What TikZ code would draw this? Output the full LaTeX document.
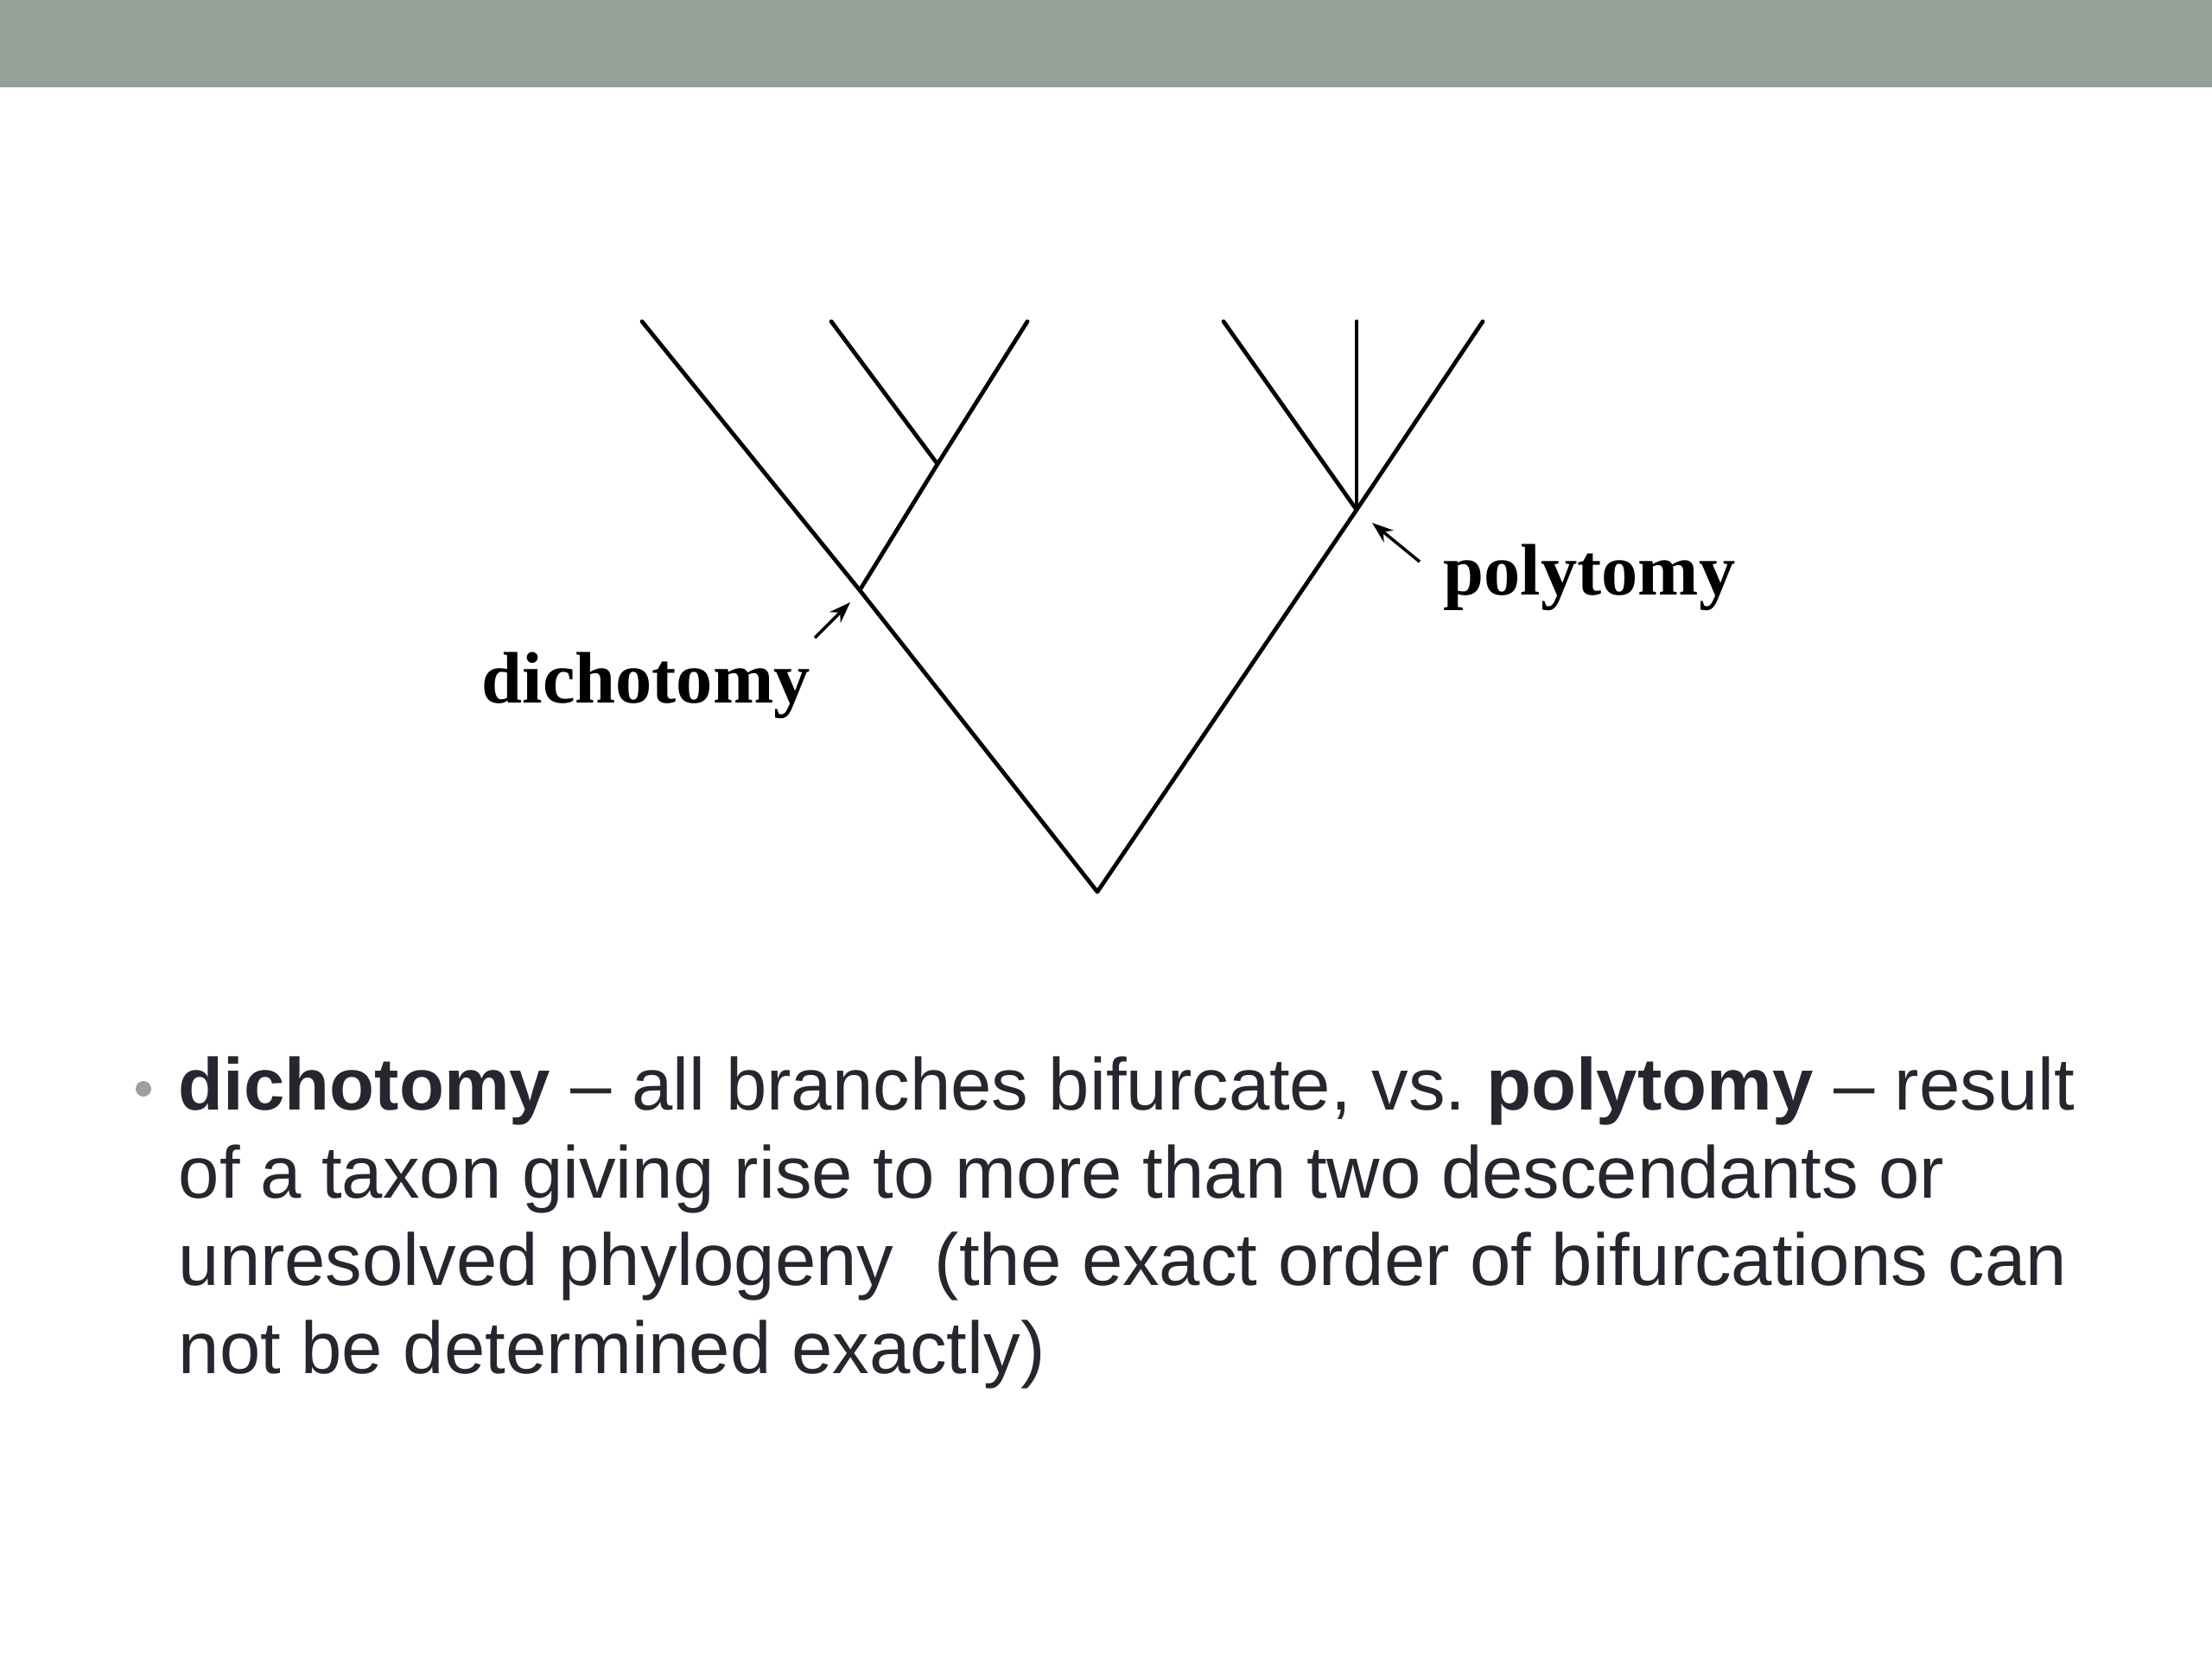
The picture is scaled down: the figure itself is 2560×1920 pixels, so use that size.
\documentclass[tikz,border=0pt]{standalone}
\usepackage{fontspec}
\setmainfont{Liberation Sans}
\newfontfamily\labelfont{Liberation Serif}
\usetikzlibrary{arrows.meta}
\definecolor{bandgray}{RGB}{147,161,153}
\definecolor{bulletgray}{RGB}{152,163,156}
\definecolor{textdark}{RGB}{38,38,46}
\frenchspacing
\begin{document}
\begin{tikzpicture}[x=0.01cm,y=-0.01cm,
  branch/.style={line width=1.35pt,line cap=round,line join=round},
  pointer/.style={line width=1pt,-{Stealth[length=7pt,width=5pt]}},
  treelabel/.style={inner sep=0pt,anchor=base west,font=\labelfont\bfseries\fontsize{24pt}{28pt}\selectfont},
  bodyline/.style={inner sep=0pt,anchor=base west,text=textdark,font=\fontsize{24.2pt}{29pt}\selectfont}]
\useasboundingbox (0,0) rectangle (2560,1920);
\fill[white] (0,0) rectangle (2560,1920);
\fill[bandgray] (0,0) rectangle (2560,101);
% tree coordinates
\coordinate (R) at (1270,1032);
\coordinate (D) at (995,683);
\coordinate (I) at (1085,537);
\coordinate (P) at (1570,590);
\coordinate (T1) at (743,372);
\coordinate (T2) at (962,372);
\coordinate (T3) at (1189,372);
\coordinate (T4) at (1416,372);
\coordinate (T5) at (1570,372);
\coordinate (T6) at (1716,372);
\draw[branch] (T1) -- (D) -- (R) -- (P) -- (T6);
\draw[branch] (D) -- (I) -- (T3);
\draw[branch] (I) -- (T2);
\draw[branch] (P) -- (T4);
\draw[branch] (P) -- (T5);
% labels
\node[treelabel] (dlab) at (557,813) {dichotomy};
\node[treelabel] (plab) at (1670,688) {polytomy};
\coordinate (dtail) at (943,738);
\coordinate (dtip) at (984,697);
\coordinate (ptail) at (1643,650);
\coordinate (ptip) at (1588,605);
\draw[pointer] (dtail) -- (dtip);
\draw[pointer] (ptail) -- (ptip);
% bullet text
\fill[bulletgray] (166,1260) circle (9);
\node[bodyline] (l1) at (206,1284) {\textbf{dichotomy} – all branches bifurcate, vs. \textbf{polytomy} – result};
\node[bodyline] (l2) at (206,1386) {of a taxon giving rise to more than two descendants or};
\node[bodyline] (l3) at (206,1487) {unresolved phylogeny\ \ (the exact order of bifurcations can};
\node[bodyline] (l4) at (206,1589) {not be determined exactly)};
\end{tikzpicture}
\end{document}
